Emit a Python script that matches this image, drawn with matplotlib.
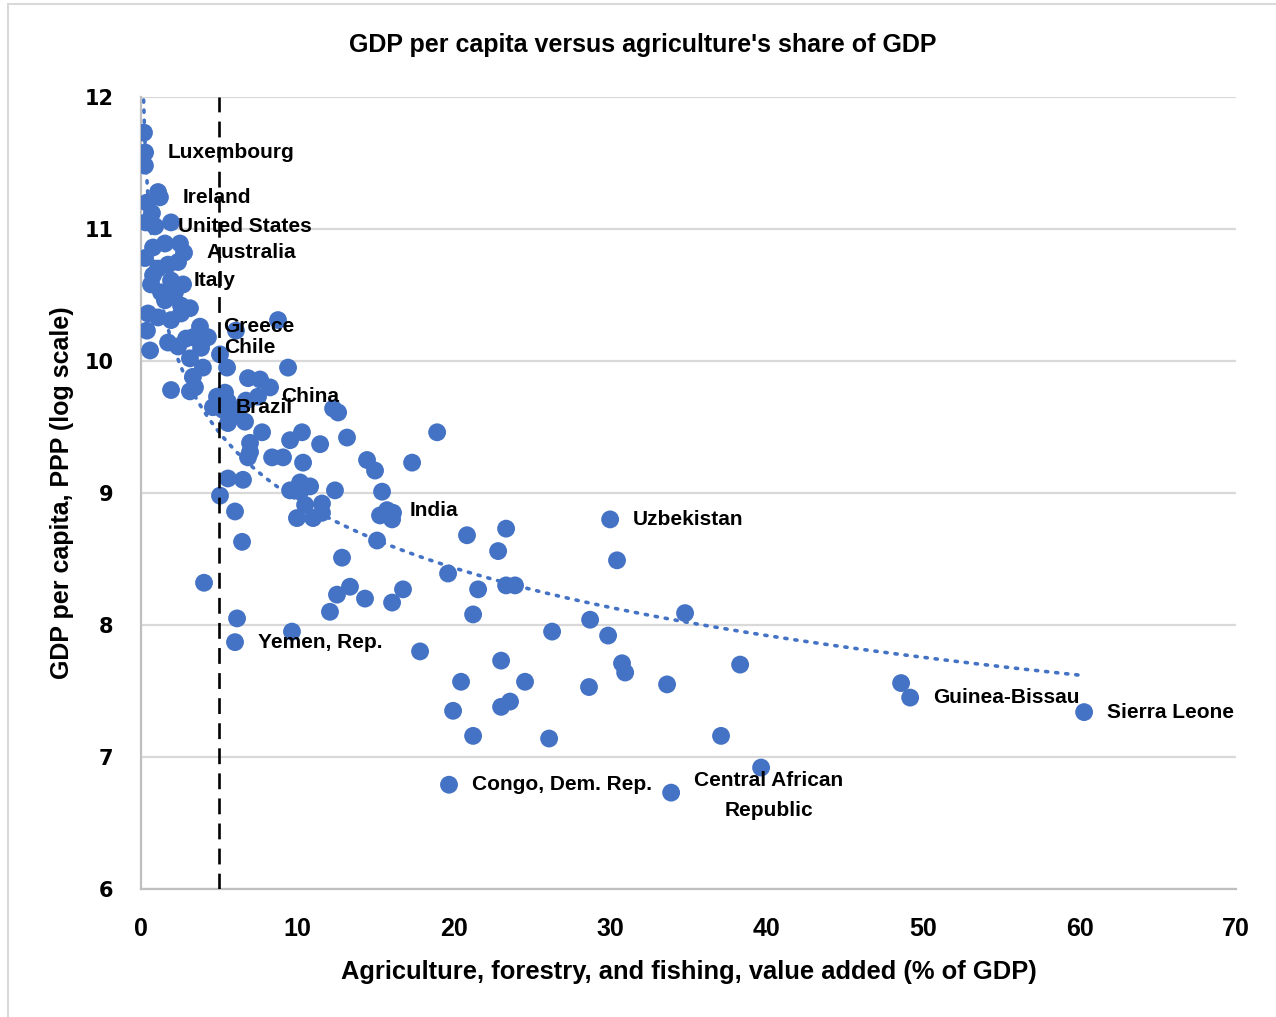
import numpy as np
import matplotlib.pyplot as plt
from matplotlib.patches import Rectangle

# Agriculture share of GDP (%) and log GDP per capita (PPP), one pair per country
agri_share = [
    0.19, 0.26, 0.25, 1.09, 1.21, 0.38, 0.70, 0.30, 0.90, 1.92, 0.26,
    0.77, 1.53, 2.49, 2.75, 1.09, 1.73, 2.37, 0.77, 0.64, 1.92, 2.69,
    1.28, 2.17, 1.53, 2.56, 3.13, 1.92, 1.09, 0.45, 2.56, 0.38, 0.58,
    1.73, 2.37, 2.88, 3.32, 3.77, 4.28, 3.84, 3.13, 3.96, 3.32, 6.07,
    8.76, 9.40, 5.05, 5.50, 1.92, 3.13, 3.45, 4.60, 5.37, 5.56, 6.20,
    6.71, 6.84, 7.61, 8.25, 7.48, 4.86, 5.24, 5.69, 6.65, 5.56, 12.28,
    12.60, 7.74, 10.29, 9.53, 11.45, 13.17, 18.93, 6.97, 6.97, 6.84,
    8.38, 9.08, 10.36, 14.45, 14.96, 17.33, 5.56, 6.52, 5.05, 9.53,
    10.17, 10.81, 10.17, 12.40, 15.41, 10.49, 11.57, 6.01, 9.97, 11.00,
    11.57, 15.28, 15.73, 16.11, 16.05, 6.46, 15.09, 12.85, 20.84, 23.34,
    22.83, 19.63, 21.55, 23.34, 23.91, 16.75, 16.05, 13.36, 12.53, 14.32,
    12.08, 4.03, 6.14, 6.01, 9.65, 21.23, 29.99, 30.43, 34.78, 28.71,
    26.28, 29.86, 17.84, 23.02, 30.75, 30.95, 38.30, 20.46, 24.55, 28.64,
    33.63, 19.95, 23.02, 23.59, 21.23, 26.09, 37.08, 39.64, 19.69, 33.89,
    48.59, 49.17, 60.29,
]
log_gdp = [
    11.73, 11.58, 11.48, 11.28, 11.24, 11.20, 11.12, 11.05, 11.02, 11.05, 10.78,
    10.86, 10.89, 10.89, 10.82, 10.70, 10.73, 10.75, 10.65, 10.58, 10.61, 10.58,
    10.52, 10.52, 10.46, 10.42, 10.40, 10.31, 10.33, 10.36, 10.36, 10.23, 10.08,
    10.14, 10.11, 10.17, 10.18, 10.26, 10.18, 10.10, 10.02, 9.95, 9.88, 10.23,
    10.31, 9.95, 10.05, 9.95, 9.78, 9.77, 9.80, 9.65, 9.76, 9.69, 9.63,
    9.70, 9.87, 9.86, 9.80, 9.73, 9.73, 9.63, 9.58, 9.54, 9.53, 9.64,
    9.61, 9.46, 9.46, 9.40, 9.37, 9.42, 9.46, 9.38, 9.31, 9.27,
    9.27, 9.27, 9.23, 9.25, 9.17, 9.23, 9.11, 9.10, 8.98, 9.02,
    9.08, 9.05, 9.01, 9.02, 9.01, 8.91, 8.92, 8.86, 8.81, 8.81,
    8.85, 8.83, 8.87, 8.85, 8.80, 8.63, 8.64, 8.51, 8.68, 8.73,
    8.56, 8.39, 8.27, 8.30, 8.30, 8.27, 8.17, 8.29, 8.23, 8.20,
    8.10, 8.32, 8.05, 7.87, 7.95, 8.08, 8.80, 8.49, 8.09, 8.04,
    7.95, 7.92, 7.80, 7.73, 7.71, 7.64, 7.70, 7.57, 7.57, 7.53,
    7.55, 7.35, 7.38, 7.42, 7.16, 7.14, 7.16, 6.92, 6.79, 6.73,
    7.56, 7.45, 7.34,
]

# Labelled countries: (name, agriculture share, log GDP per capita)
labels = [
    ("Luxembourg", 0.26, 11.58),
    ("Ireland", 1.21, 11.24),
    ("United States", 0.90, 11.02),
    ("Australia", 2.75, 10.82),
    ("Italy", 1.92, 10.61),
    ("Greece", 3.77, 10.26),
    ("Chile", 3.84, 10.10),
    ("China", 7.48, 9.73),
    ("Brazil", 4.60, 9.65),
    ("India", 15.73, 8.87),
    ("Uzbekistan", 29.99, 8.80),
    ("Yemen, Rep.", 6.01, 7.87),
    ("Congo, Dem. Rep.", 19.69, 6.79),
    ("Central African\nRepublic", 33.89, 6.73),
    ("Guinea-Bissau", 49.17, 7.45),
    ("Sierra Leone", 60.29, 7.34),
]

# logarithmic trend line y = intercept + slope * ln(x)
trend_intercept = 10.65
trend_slope = -0.74
trend_start = 0.15

x_ticks = [0, 10, 20, 30, 40, 50, 60, 70]
y_ticks = [6, 7, 8, 9, 10, 11, 12]
threshold = 5

blue = "#4472C4"
font = "Liberation Sans"

fig = plt.figure(figsize=(12.76, 10.17), dpi=100)
ax = fig.add_axes([141 / 1276, 1 - 889 / 1017, (1236 - 141) / 1276, (889 - 97) / 1017])

# chart border
fig.patches.append(Rectangle((8 / 1276, -0.05), 1.1, 1.05 - 4 / 1017, transform=fig.transFigure,
                             fill=False, edgecolor="#d9d9d9", linewidth=1.5, zorder=0))

x = np.array(agri_share)
y = np.array(log_gdp)

ax.scatter(x, y, s=165, color=blue, edgecolors="none", zorder=3)

xt = np.linspace(trend_start, x.max(), 2000)
ax.plot(xt, trend_intercept + trend_slope * np.log(xt), color=blue,
        linestyle=(0, (0.6, 2.2)), linewidth=2.6, dash_capstyle="round", zorder=2)

ax.axvline(threshold, color="black", linestyle=(0, (6, 3.5)), linewidth=1.9, zorder=4)

for name, lx, ly in labels:
    ax.annotate(name, (lx, ly), xytext=(16.5, -2 if "\n" in name else 0),
                textcoords="offset points", ha="left", va="center",
                multialignment="center", fontsize=15, fontweight="bold", family=font,
                linespacing=1.7, zorder=5)

ax.set_xlim(0, 70)
ax.set_ylim(6, 12)
ax.set_xticks(x_ticks)
ax.set_yticks(y_ticks)
ax.grid(axis="y", color="#d9d9d9", linewidth=1.6, zorder=0)
ax.set_axisbelow(True)
for side in ["top", "right"]:
    ax.spines[side].set_visible(False)
for side in ["left", "bottom"]:
    ax.spines[side].set_color("#bfbfbf")
    ax.spines[side].set_linewidth(1.6)
ax.tick_params(length=0)
ax.tick_params(axis="x", pad=20)
ax.tick_params(axis="y", pad=20)
for t in ax.get_xticklabels():
    t.set_family(font)
    t.set_fontweight("bold")
    t.set_fontsize(18)
for t in ax.get_yticklabels():
    t.set_family("DejaVu Sans")
    t.set_fontweight("bold")
    t.set_fontsize(15)

ax.set_xlabel("Agriculture, forestry, and fishing, value added (% of GDP)", family=font,
              fontweight="bold", fontsize=18.4, labelpad=14)
ax.set_ylabel("GDP per capita, PPP (log scale)", family=font, fontweight="bold",
              fontsize=18, labelpad=7)
fig.text(643 / 1276, 1 - 45 / 1017, "GDP per capita versus agriculture's share of GDP",
         ha="center", va="center", family=font, fontweight="bold", fontsize=18)

fig.savefig("out.png", dpi=100)
